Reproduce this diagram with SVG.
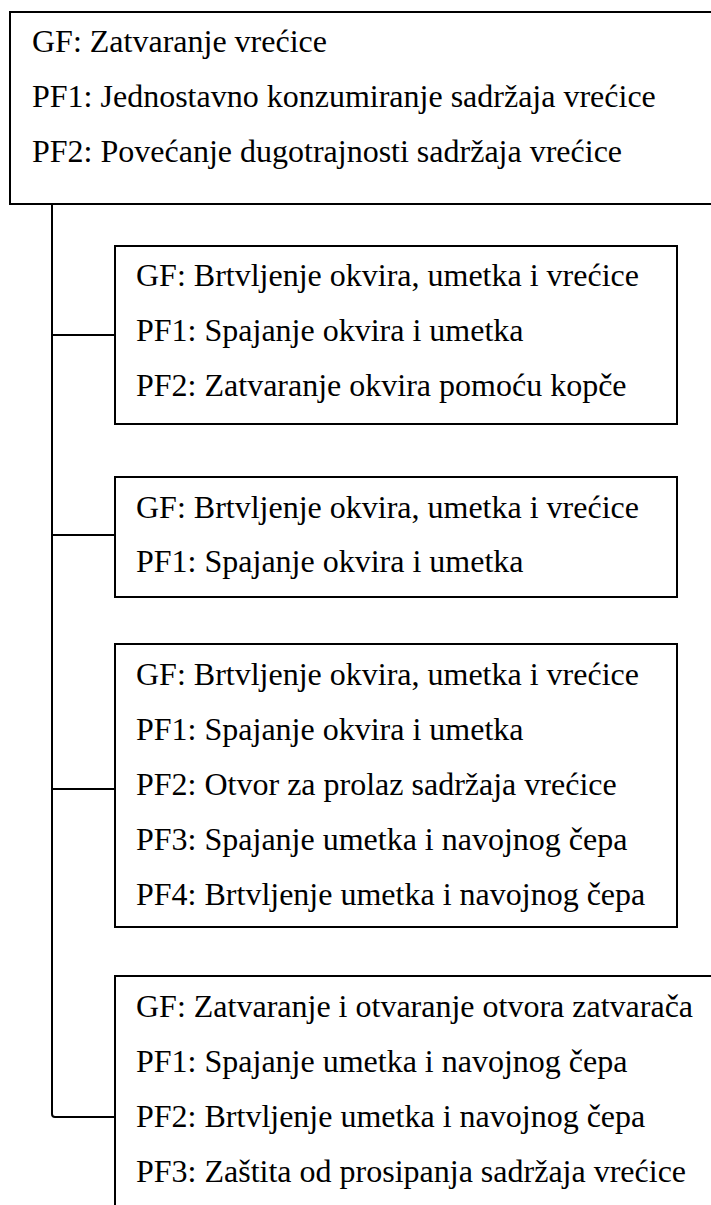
<svg xmlns="http://www.w3.org/2000/svg" width="711" height="1205" viewBox="0 0 711 1205">
<style>
.box{fill:#fff;stroke:#000;stroke-width:2}
.ln{fill:none;stroke:#000;stroke-width:2}
text{font-family:"Liberation Serif","Times New Roman",serif;font-size:32px;fill:#000}
</style>
<rect width="711" height="1205" fill="#fff"/>
<g id="connectors">
<path class="ln" d="M52,204 V1114 Q52,1117 55,1117 H115"/>
<path class="ln" d="M52,335 H115"/>
<path class="ln" d="M52,535 H115"/>
<path class="ln" d="M52,789 H115"/>
</g>
<g id="node-root">
<rect class="box" x="10" y="12" width="720" height="192"/>
<text x="32" y="52">GF: Zatvaranje vrećice</text>
<text x="32" y="107">PF1: Jednostavno konzumiranje sadržaja vrećice</text>
<text x="32" y="162">PF2: Povećanje dugotrajnosti sadržaja vrećice</text>
</g>
<g id="node-1">
<rect class="box" x="115" y="246" width="562" height="178"/>
<text x="136" y="286">GF: Brtvljenje okvira, umetka i vrećice</text>
<text x="136" y="341">PF1: Spajanje okvira i umetka</text>
<text x="136" y="396">PF2: Zatvaranje okvira pomoću kopče</text>
</g>
<g id="node-2">
<rect class="box" x="115" y="477" width="562" height="120"/>
<text x="136" y="518">GF: Brtvljenje okvira, umetka i vrećice</text>
<text x="136" y="572">PF1: Spajanje okvira i umetka</text>
</g>
<g id="node-3">
<rect class="box" x="115" y="644" width="562" height="283"/>
<text x="136" y="685">GF: Brtvljenje okvira, umetka i vrećice</text>
<text x="136" y="740">PF1: Spajanje okvira i umetka</text>
<text x="136" y="795">PF2: Otvor za prolaz sadržaja vrećice</text>
<text x="136" y="850">PF3: Spajanje umetka i navojnog čepa</text>
<text x="136" y="905">PF4: Brtvljenje umetka i navojnog čepa</text>
</g>
<g id="node-4">
<rect class="box" x="115" y="976" width="620" height="260"/>
<text x="136" y="1017">GF: Zatvaranje i otvaranje otvora zatvarača</text>
<text x="136" y="1072">PF1: Spajanje umetka i navojnog čepa</text>
<text x="136" y="1127">PF2: Brtvljenje umetka i navojnog čepa</text>
<text x="136" y="1182">PF3: Zaštita od prosipanja sadržaja vrećice</text>
</g>
</svg>
